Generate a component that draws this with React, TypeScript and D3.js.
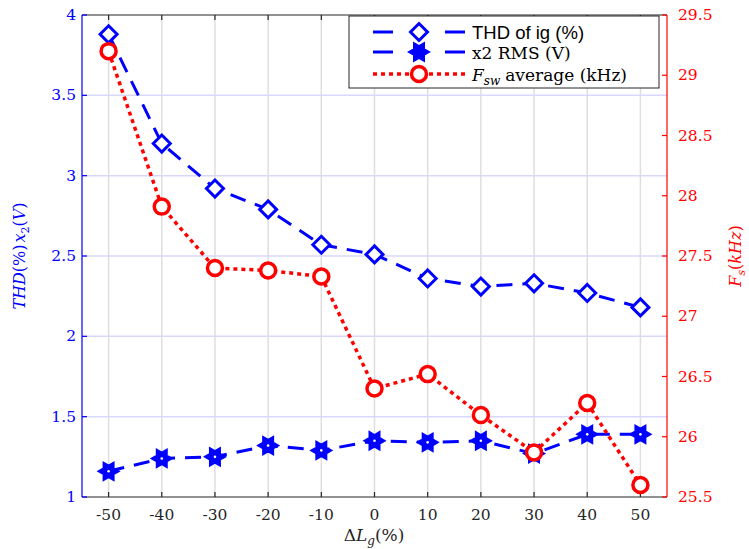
import React from "react";
import * as d3 from "d3";

const deltaL = [-50, -40, -30, -20, -10, 0, 10, 20, 30, 40, 50];
const thd = [3.88, 3.2, 2.92, 2.79, 2.57, 2.51, 2.36, 2.31, 2.33, 2.27, 2.18];
const x2rms = [1.16, 1.24, 1.25, 1.32, 1.29, 1.35, 1.34, 1.35, 1.27, 1.39, 1.39];
const fsw = [29.2, 27.91, 27.4, 27.38, 27.33, 26.4, 26.52, 26.18, 25.87, 26.28, 25.6];
const xTicks = [-50, -40, -30, -20, -10, 0, 10, 20, 30, 40, 50];
const leftTicks = [1, 1.5, 2, 2.5, 3, 3.5, 4];
const rightTicks = [25.5, 26, 26.5, 27, 27.5, 28, 28.5, 29, 29.5];
const legendLabels = ["THD of ig (%)", "x2 RMS (V)", "average (kHz)"];

const L = 82, R = 667, T = 15, B = 497;
const BLUE = "#0000ff";
const RED = "#ff0000";
const AX = "#262626";
const SERIF = "'DejaVu Serif', 'Liberation Serif', serif";
const SANS = "'Liberation Sans', Arial, sans-serif";

function hexagram(cx: number, cy: number, Ro: number) {
  const ri = Ro / Math.sqrt(3);
  const pts: string[] = [];
  for (let i = 0; i < 12; i++) {
    const a = (i * Math.PI) / 6;
    const r = i % 2 === 0 ? Ro : ri;
    pts.push(`${cx + r * Math.cos(a)},${cy + r * Math.sin(a)}`);
  }
  return "M" + pts.join("L") + "Z";
}
function diamond(cx: number, cy: number, s: number) {
  return `M${cx},${cy - s}L${cx + s},${cy}L${cx},${cy + s}L${cx - s},${cy}Z`;
}

export default function App() {
  const x = d3.scaleLinear().domain([-55, 55]).range([L, R]);
  const yl = d3.scaleLinear().domain([1, 4]).range([B, T]);
  const yr = d3.scaleLinear().domain([25.5, 29.5]).range([B, T]);

  const lineL = d3.line<number>().x((_, i) => x(deltaL[i])).y((d) => yl(d));
  const lineR = d3.line<number>().x((_, i) => x(deltaL[i])).y((d) => yr(d));

  return (
    <svg width={749} height={549} style={{ position: "absolute", left: 0, top: 0, background: "#fff" }}>
      <rect x={0} y={0} width={749} height={549} fill="#fff" />
      {/* grid */}
      {xTicks.map((t) => (
        <line key={"gx" + t} x1={x(t)} x2={x(t)} y1={T} y2={B} stroke="#dedede" strokeWidth={1.5} />
      ))}
      {leftTicks.slice(1, -1).map((t) => (
        <line key={"gy" + t} x1={L} x2={R} y1={yl(t)} y2={yl(t)} stroke="#d8d8fb" strokeWidth={1.5} />
      ))}
      {/* axes */}
      <line x1={L} x2={R} y1={B} y2={B} stroke={AX} strokeWidth={1.2} />
      <line x1={L} x2={R} y1={T} y2={T} stroke={AX} strokeWidth={1.2} />
      <line x1={L} x2={L} y1={T} y2={B} stroke={BLUE} strokeWidth={1.2} />
      <line x1={R} x2={R} y1={T} y2={B} stroke={RED} strokeWidth={1.2} />
      {xTicks.map((t) => (
        <g key={"xt" + t}>
          <line x1={x(t)} x2={x(t)} y1={B} y2={B - 5} stroke={AX} strokeWidth={1.2} />
          <line x1={x(t)} x2={x(t)} y1={T} y2={T + 5} stroke={AX} strokeWidth={1.2} />
          <text x={x(t)} y={B + 23} textAnchor="middle" fontFamily={SERIF} fontSize={15.5} fill={AX}>
            {t}
          </text>
        </g>
      ))}
      {leftTicks.map((t) => (
        <g key={"lt" + t}>
          <line x1={L} x2={L + 5} y1={yl(t)} y2={yl(t)} stroke={BLUE} strokeWidth={1.2} />
          <text x={L - 6} y={yl(t) + 5} textAnchor="end" fontFamily={SERIF} fontSize={15.5} fill={BLUE}>
            {t}
          </text>
        </g>
      ))}
      {rightTicks.map((t) => (
        <g key={"rt" + t}>
          <line x1={R} x2={R - 5} y1={yr(t)} y2={yr(t)} stroke={RED} strokeWidth={1.2} />
          <text x={R + 11} y={yr(t) + 5} textAnchor="start" fontFamily={SERIF} fontSize={15.5} fill={RED}>
            {t}
          </text>
        </g>
      ))}
      {/* series */}
      <path d={lineL(thd) || ""} fill="none" stroke={BLUE} strokeWidth={3} strokeDasharray="16 10" />
      <path d={lineL(x2rms) || ""} fill="none" stroke={BLUE} strokeWidth={3} strokeDasharray="16 10" />
      <path d={lineR(fsw) || ""} fill="none" stroke={RED} strokeWidth={3.5} strokeDasharray="4 4" />
      {thd.map((v, i) => (
        <path key={"d" + i} d={diamond(x(deltaL[i]), yl(v), 8.5)} fill="#fff" stroke={BLUE} strokeWidth={3} />
      ))}
      {x2rms.map((v, i) => (
        <path key={"h" + i} d={hexagram(x(deltaL[i]), yl(v), 10)} fill={BLUE} stroke={BLUE} strokeWidth={2} />
      ))}
      {x2rms.map((v, i) => (
        <circle key={"hc" + i} cx={x(deltaL[i])} cy={yl(v)} r={1.3} fill="#fff" />
      ))}
      {fsw.map((v, i) => (
        <circle key={"c" + i} cx={x(deltaL[i])} cy={yr(v)} r={7.5} fill="#fff" stroke={RED} strokeWidth={3.5} />
      ))}
      {/* legend */}
      <rect x={349} y={16} width={310} height={72} fill="#fff" stroke={AX} strokeWidth={1} />
      <line x1={373} x2={393} y1={32} y2={32} stroke={BLUE} strokeWidth={3} />
      <line x1={445} x2={465} y1={32} y2={32} stroke={BLUE} strokeWidth={3} />
      <path d={diamond(419, 32, 8.5)} fill="#fff" stroke={BLUE} strokeWidth={3} />
      <line x1={373} x2={393} y1={52} y2={52} stroke={BLUE} strokeWidth={3} />
      <line x1={445} x2={465} y1={52} y2={52} stroke={BLUE} strokeWidth={3} />
      <path d={hexagram(419, 52, 10)} fill={BLUE} stroke={BLUE} strokeWidth={2} />
      <line x1={373} x2={465} y1={74} y2={74} stroke={RED} strokeWidth={3.5} strokeDasharray="4 4" />
      <circle cx={419} cy={74} r={7.5} fill="#fff" stroke={RED} strokeWidth={3.5} />
      <text x={472} y={38.5} fontFamily={SANS} fontSize={18.5} fill="#000">{legendLabels[0]}</text>
      <text x={472} y={58.5} fontFamily={SERIF} fontSize={17} fill="#000">{legendLabels[1]}</text>
      <text x={472} y={80.5} fontFamily={SERIF} fontSize={17} fill="#000">
        <tspan fontStyle="italic">F</tspan>
        <tspan fontStyle="italic" fontSize={12} dy={4}>sw</tspan>
        <tspan dy={-4} dx={5}>{legendLabels[2]}</tspan>
      </text>
      {/* axis labels */}
      <text x={374} y={541} textAnchor="middle" fontFamily={SERIF} fontSize={17} fill={AX}>
        <tspan>Δ</tspan>
        <tspan fontStyle="italic">L</tspan>
        <tspan fontStyle="italic" fontSize={12} dy={4}>g</tspan>
        <tspan dy={-4}>(%)</tspan>
      </text>
      <text transform={`translate(25,${(T + B) / 2}) rotate(-90)`} textAnchor="middle" fontFamily={SERIF} fontSize={16} fill={BLUE}>
        <tspan fontStyle="italic">THD</tspan>
        <tspan>(%)</tspan>
        <tspan fontStyle="italic" dx={2}>x</tspan>
        <tspan fontSize={11} dy={4}>2</tspan>
        <tspan dy={-4}>(</tspan>
        <tspan fontStyle="italic">V</tspan>
        <tspan>)</tspan>
      </text>
      <text transform={`translate(741,${(T + B) / 2}) rotate(-90)`} textAnchor="middle" fontFamily={SERIF} fontSize={16} fill={RED}>
        <tspan fontStyle="italic">F</tspan>
        <tspan fontStyle="italic" fontSize={11} dy={4}>s</tspan>
        <tspan dy={-4}>(</tspan>
        <tspan fontStyle="italic">kHz</tspan>
        <tspan>)</tspan>
      </text>
    </svg>
  );
}
